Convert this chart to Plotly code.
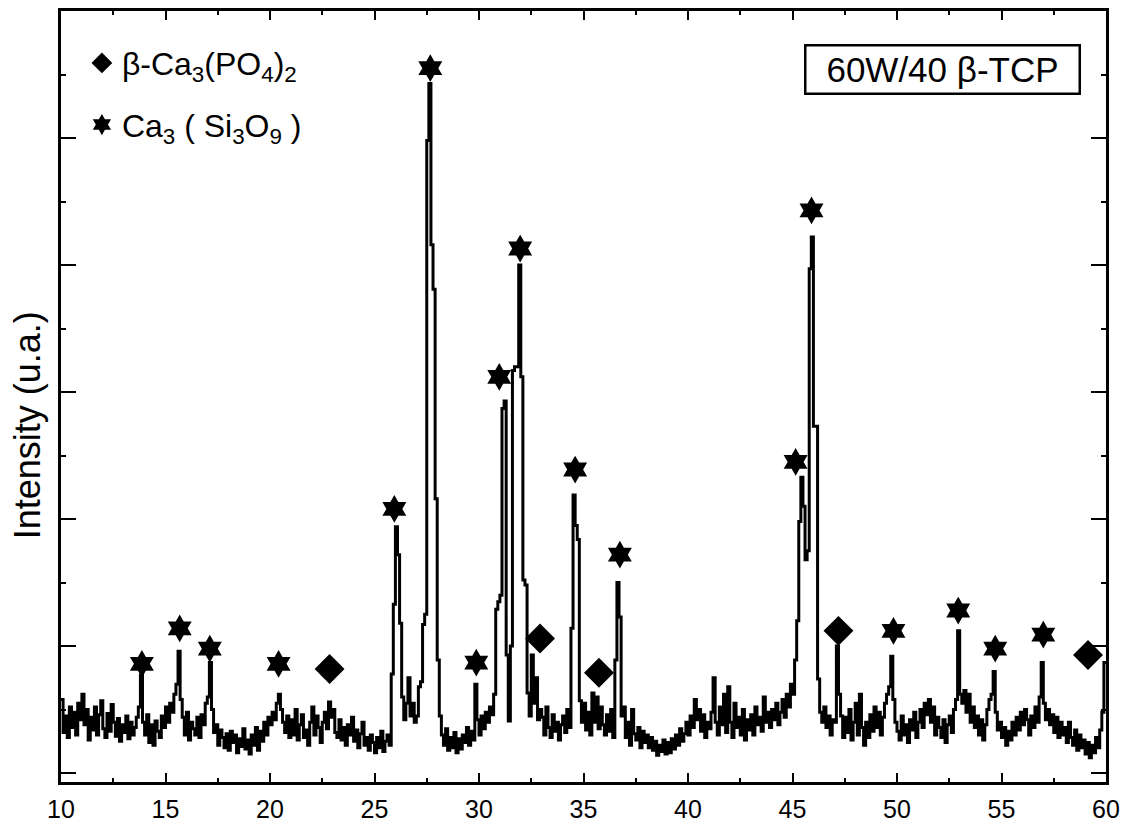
import numpy as np
import plotly.graph_objects as go

# 2-theta grid (degrees), step 0.1 from 10.0 to 60.0
two_theta = [round(10 + 0.1 * i, 1) for i in range(501)]

# Intensity (arbitrary units), read row by row (each row = one degree, 0.1 step)
intensity = [
    0.58, 0.32, 0.45, 0.28, 0.52, 0.36, 0.48, 0.30, 0.55, 0.42,  # 10
    0.62, 0.38, 0.50, 0.26, 0.44, 0.34, 0.52, 0.30, 0.46, 0.57,  # 11
    0.35, 0.28, 0.47, 0.33, 0.54, 0.40, 0.29, 0.43, 0.25, 0.38,  # 12
    0.32, 0.45, 0.27, 0.40, 0.30, 0.36, 0.44, 0.52, 0.77, 0.40,  # 13
    0.30, 0.46, 0.24, 0.38, 0.22, 0.41, 0.33, 0.28, 0.45, 0.36,  # 14
    0.52, 0.40, 0.55, 0.48, 0.62, 0.70, 0.96, 0.58, 0.44, 0.30,  # 15
    0.48, 0.26, 0.40, 0.35, 0.30, 0.44, 0.28, 0.46, 0.38, 0.55,  # 16
    0.60, 0.87, 0.50, 0.32, 0.38, 0.22, 0.34, 0.28, 0.20, 0.31,  # 17
    0.18, 0.33, 0.24, 0.30, 0.16, 0.27, 0.21, 0.35, 0.19, 0.26,  # 18
    0.15, 0.30, 0.22, 0.36, 0.18, 0.33, 0.25, 0.40, 0.30, 0.44,  # 19
    0.38, 0.48, 0.42, 0.55, 0.62, 0.50, 0.40, 0.32, 0.45, 0.28,  # 20
    0.42, 0.30, 0.50, 0.26, 0.38, 0.46, 0.28, 0.34, 0.22, 0.40,  # 21
    0.52, 0.30, 0.45, 0.36, 0.24, 0.40, 0.48, 0.35, 0.56, 0.44,  # 22
    0.50, 0.32, 0.28, 0.42, 0.26, 0.36, 0.22, 0.38, 0.30, 0.44,  # 23
    0.25, 0.34, 0.20, 0.31, 0.40, 0.22, 0.28, 0.18, 0.30, 0.24,  # 24
    0.16, 0.28, 0.20, 0.33, 0.17, 0.25, 0.30, 0.22, 0.78, 1.33,  # 25
    1.94, 1.72, 1.18, 0.60, 0.42, 0.55, 0.75, 0.45, 0.55, 0.40,  # 26
    0.45, 0.68, 0.72, 1.17, 1.25, 4.98, 5.43, 4.16, 3.81, 2.16,  # 27
    0.89, 0.45, 0.30, 0.22, 0.35, 0.18, 0.28, 0.20, 0.32, 0.16,  # 28
    0.27, 0.19, 0.30, 0.24, 0.36, 0.22, 0.33, 0.26, 0.70, 0.42,  # 29
    0.30, 0.45, 0.35, 0.48, 0.40, 0.52, 0.46, 0.62, 1.29, 1.35,  # 30
    1.40, 2.87, 2.93, 0.93, 0.41, 1.00, 3.17, 3.20, 3.20, 4.00,  # 31
    3.12, 1.52, 1.48, 0.63, 0.45, 0.93, 0.55, 0.75, 0.42, 0.50,  # 32
    0.44, 0.30, 0.52, 0.36, 0.28, 0.46, 0.33, 0.40, 0.26, 0.38,  # 33
    0.45, 0.32, 0.50, 0.36, 1.14, 2.19, 1.95, 1.84, 0.57, 0.40,  # 34
    0.55, 0.34, 0.48, 0.30, 0.63, 0.40, 0.60, 0.35, 0.52, 0.38,  # 35
    0.30, 0.46, 0.33, 0.50, 0.28, 0.89, 1.50, 1.23, 0.45, 0.52,  # 36
    0.28, 0.40, 0.22, 0.50, 0.31, 0.26, 0.36, 0.20, 0.33, 0.24,  # 37
    0.30, 0.20, 0.28, 0.18, 0.25, 0.14, 0.22, 0.17, 0.26, 0.15,  # 38
    0.24, 0.16, 0.27, 0.19, 0.30, 0.22, 0.35, 0.25, 0.31, 0.40,  # 39
    0.30, 0.45, 0.36, 0.58, 0.42, 0.50, 0.33, 0.46, 0.28, 0.40,  # 40
    0.35, 0.48, 0.75, 0.40, 0.30, 0.52, 0.38, 0.62, 0.32, 0.68,  # 41
    0.40, 0.28, 0.55, 0.36, 0.44, 0.30, 0.50, 0.26, 0.42, 0.34,  # 42
    0.46, 0.30, 0.52, 0.38, 0.44, 0.33, 0.60, 0.40, 0.48, 0.36,  # 43
    0.50, 0.42, 0.55, 0.38, 0.48, 0.58, 0.44, 0.62, 0.52, 0.70,  # 44
    0.62, 0.89, 1.20, 1.98, 2.33, 2.10, 1.68, 1.75, 3.97, 4.22,  # 45
    2.73, 2.73, 0.74, 0.48, 0.40, 0.52, 0.36, 0.45, 0.30, 0.42,  # 46
    0.40, 1.00, 0.62, 0.45, 0.28, 0.44, 0.32, 0.50, 0.26, 0.40,  # 47
    0.55, 0.30, 0.62, 0.36, 0.22, 0.40, 0.28, 0.46, 0.33, 0.52,  # 48
    0.36, 0.48, 0.30, 0.44, 0.55, 0.62, 0.68, 0.92, 0.58, 0.40,  # 49
    0.33, 0.26, 0.45, 0.30, 0.38, 0.24, 0.42, 0.34, 0.48, 0.28,  # 50
    0.40, 0.50, 0.36, 0.55, 0.46, 0.58, 0.40, 0.52, 0.30, 0.44,  # 51
    0.36, 0.28, 0.42, 0.24, 0.38, 0.45, 0.32, 0.50, 0.58, 1.12,  # 52
    0.62, 0.55, 0.65, 0.48, 0.62, 0.40, 0.52, 0.36, 0.45, 0.30,  # 53
    0.42, 0.26, 0.38, 0.50, 0.58, 0.62, 0.80, 0.48, 0.34, 0.40,  # 54
    0.28, 0.36, 0.22, 0.33, 0.26, 0.40, 0.30, 0.44, 0.34, 0.48,  # 55
    0.38, 0.50, 0.42, 0.30, 0.45, 0.36, 0.52, 0.40, 0.60, 0.87,  # 56
    0.55, 0.42, 0.50, 0.38, 0.46, 0.32, 0.44, 0.28, 0.40, 0.30,  # 57
    0.36, 0.24, 0.40, 0.28, 0.22, 0.34, 0.18, 0.30, 0.20, 0.26,  # 58
    0.15, 0.24, 0.12, 0.22, 0.16, 0.28, 0.20, 0.34, 0.48, 0.87,  # 59
    0.87,                                                        # 60
]

# Phase markers: Ca3(Si3O9) (stars) and beta-Ca3(PO4)2 (diamonds)
star_x = [13.87, 15.68, 17.12, 20.41, 25.95, 27.67, 29.87, 30.97, 31.97,
          34.60, 36.74, 45.15, 45.91, 49.83, 52.93, 54.70, 57.00]
star_y = [0.86, 1.14, 0.98, 0.86, 2.08, 5.55, 0.87, 3.12, 4.13,
          2.39, 1.72, 2.45, 4.43, 1.12, 1.28, 0.98, 1.09]
diamond_x = [22.85, 32.92, 35.74, 47.20, 59.14]
diamond_y = [0.82, 1.06, 0.79, 1.12, 0.93]

x_ticks = [10, 15, 20, 25, 30, 35, 40, 45, 50, 55, 60]

FONT = "Liberation Sans, Arial, sans-serif"

fig = go.Figure()
fig.add_trace(go.Scatter(
    x=two_theta, y=intensity, mode="lines", line=dict(color="black", width=3, shape="hv"),
    showlegend=False, hoverinfo="skip"))
fig.add_trace(go.Scatter(
    x=diamond_x, y=diamond_y, mode="markers",
    marker=dict(symbol="diamond", size=23, color="black"),
    name="β-Ca<sub>3</sub>(PO<sub>4</sub>)<sub>2</sub>", legendgroup="a"))
fig.add_trace(go.Scatter(
    x=star_x, y=star_y, mode="markers",
    marker=dict(symbol="hexagram", size=21, color="black"),
    name="Ca<sub>3</sub> ( Si<sub>3</sub>O<sub>9</sub> )", legendgroup="b"))

axis_common = dict(showline=True, linecolor="black", linewidth=3, mirror="ticks",
                   ticks="inside", tickcolor="black", tickwidth=2, showgrid=False,
                   zeroline=False)

fig.update_xaxes(range=[10, 60], tickvals=x_ticks, ticklen=9,
                 minor=dict(dtick=2.5, ticks="inside", ticklen=4, tickcolor="black", tickwidth=2),
                 tickfont=dict(family=FONT, size=25, color="black"),
                 ticklabelstandoff=3, **axis_common)
fig.update_yaxes(range=[-0.07, 6.0], dtick=1, tick0=0, ticklen=15, showticklabels=False,
                 minor=dict(dtick=0.5, ticks="inside", ticklen=5, tickcolor="black", tickwidth=2),
                 **axis_common)

fig.add_annotation(text="Intensity (u.a.)", xref="paper", yref="paper",
                   x=-0.0325, y=0.4627, textangle=-90, showarrow=False,
                   font=dict(family=FONT, size=36, color="black"),
                   xanchor="center", yanchor="middle")
fig.add_annotation(text="60W/40 β-TCP", xref="paper", yref="paper",
                   x=0.8434, y=0.924, showarrow=False,
                   font=dict(family=FONT, size=35, color="black"),
                   xanchor="center", yanchor="middle",
                   bordercolor="black", borderwidth=2.5, borderpad=0,
                   width=272, height=46, bgcolor="white")

fig.update_layout(
    width=1128, height=831,
    margin=dict(l=61, r=20, t=8, b=45),
    plot_bgcolor="white", paper_bgcolor="white",
    legend=dict(x=0.02, y=0.968, xanchor="left", yanchor="top",
                font=dict(family=FONT, size=32, color="black"),
                bgcolor="rgba(0,0,0,0)", tracegroupgap=17, traceorder="grouped",
                itemsizing="trace"),
)

fig.write_html("out.html", config={"displayModeBar": False},
               post_script="document.body.style.margin='0px';document.body.style.overflow='hidden';")
